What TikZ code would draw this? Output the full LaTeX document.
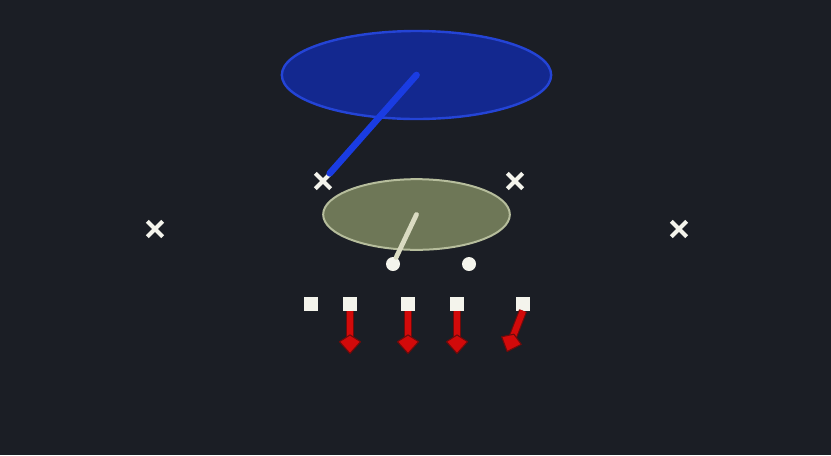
\documentclass[tikz,border=0pt]{standalone}
\usepackage{tikz}
\usetikzlibrary{shapes.geometric,shapes.misc,arrows.meta}

\definecolor{bgdark}{HTML}{1B1E25}
\definecolor{zoneblue}{HTML}{13288F}
\definecolor{edgeblue}{HTML}{2444D6}
\definecolor{lineblue}{HTML}{1A3CE2}
\definecolor{zonegreen}{HTML}{6E7757}
\definecolor{edgegreen}{HTML}{B6BD9C}
\definecolor{linegreen}{HTML}{DADBC2}
\definecolor{chalk}{HTML}{F4F4EC}
\definecolor{routered}{HTML}{D20A0A}
\definecolor{routedark}{HTML}{6E0A0A}

\tikzset{
  xmark/.style={cross out, draw=chalk, line width=3pt, minimum size=8.5pt, inner sep=0pt},
  lineman/.style={rectangle, fill=chalk, minimum size=10.5pt, inner sep=0pt},
  back/.style={circle, fill=chalk, minimum size=10.5pt, inner sep=0pt},
  route/.style={draw=routered, line width=4.6pt,
    -{Kite[length=15pt,width=17pt,inset=5.5pt,round,fill=routered,color=routedark,line width=0.8pt]},
    preaction={draw=routedark, line width=6.2pt, -, shorten >=10pt}},
}

\begin{document}
\begin{tikzpicture}[x=0.75pt,y=0.75pt,yscale=-1,xscale=1]
\fill[bgdark] (0,0) rectangle (831,455);
\useasboundingbox (0,0) rectangle (831,455);

% zones
\node[ellipse, fill=zoneblue, draw=edgeblue, line width=1.8pt, minimum width=202pt, minimum height=66pt, inner sep=0pt] (bluezone) at (416.5,75) {};
\node[ellipse, fill=zonegreen, draw=edgegreen, line width=1.5pt, minimum width=140pt, minimum height=53pt, inner sep=0pt] (greenzone) at (416.5,214.5) {};

% defenders
\node[xmark] (xa) at (323,181) {};
\node[xmark] (xb) at (515,181) {};
\node[xmark] (xc) at (155,229) {};
\node[xmark] (xd) at (679,229) {};

% backs
\node[back] (qb) at (393,264) {};
\node[back] (rb) at (469,264) {};

% line
\node[lineman] (la) at (311,303.5) {};
\node[lineman] (lb) at (350,303.5) {};
\node[lineman] (lc) at (408,303.5) {};
\node[lineman] (ld) at (457,303.5) {};
\node[lineman] (le) at (523,303.5) {};

\coordinate (eb) at (350,354);
\coordinate (ec) at (408,354);
\coordinate (ed) at (457,354);
\coordinate (ee) at (507,352);

% zone drops
\draw[lineblue, line width=5pt, line cap=round] (bluezone.center) -- (xa);
\draw[linegreen, line width=3.6pt, line cap=round] (greenzone.center) -- (qb);

% blocks
\draw[route] (lb.south) -- (eb);
\draw[route] (lc.south) -- (ec);
\draw[route] (ld.south) -- (ed);
\draw[route] (le.south) -- (ee);

\end{tikzpicture}
\end{document}
